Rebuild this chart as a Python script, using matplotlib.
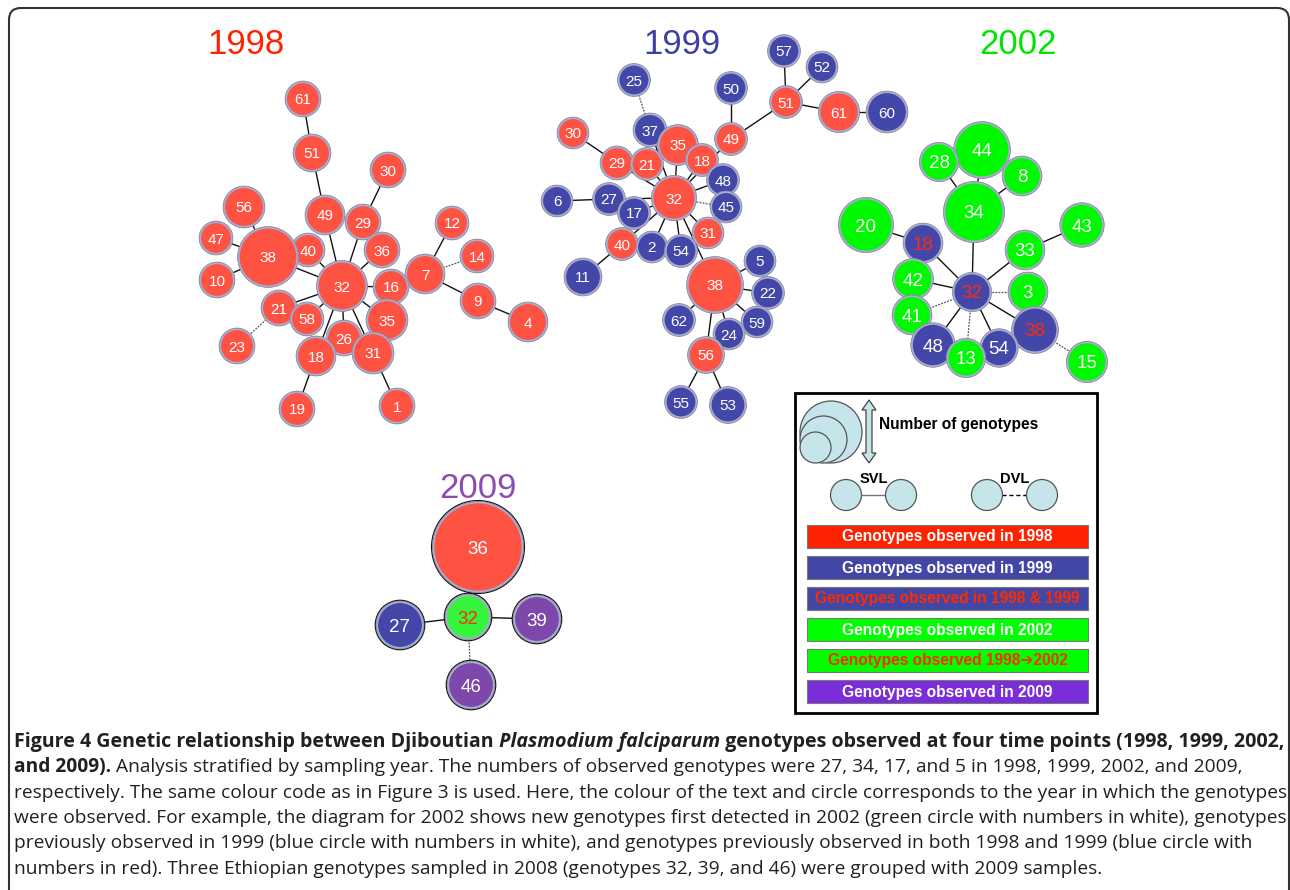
import matplotlib
matplotlib.use('Agg')
import matplotlib.pyplot as plt
from matplotlib.patches import Circle, Rectangle, FancyBboxPatch, Polygon

RED = '#fe5343'
BLUE = '#4347a7'
GREEN = '#00f800'
GREEN2 = '#35f53a'
PURPLE = '#7e47aa'
FILL = {'r': RED, 'b': BLUE, 'g': GREEN, 'G': GREEN2, 'p': PURPLE}
TXT = {'w': 'white', 'r': '#ff2a10'}

# ---- 1998 network ----
lab98 = ['61', '51', '30', '56', '49', '29', '12', '47', '40', '36', '14', '38', '7', '10',
         '32', '16', '9', '21', '58', '35', '4', '26', '23', '18', '31', '19', '1']
x98 = [303, 312, 388, 244, 325, 363, 452, 216, 308, 382, 477, 268, 425, 217,
       342, 391, 478, 279, 307, 387, 528, 344, 237, 316, 373, 297, 397]
y98 = [99, 153, 170, 207, 215, 222, 223, 238, 250, 250, 256, 257, 274, 280,
       286, 287, 301, 308, 319, 320, 322, 338, 346, 356, 353, 409, 406]
r98 = [17, 18, 17, 20, 19, 17, 16, 16, 16, 17, 16, 29.5, 19, 17,
       24.5, 17, 17, 17, 16, 20, 19, 17, 17, 19, 20, 17, 17]
fill98 = 'r' * len(lab98)
txt98 = 'w' * len(lab98)
svl98 = [('61', '51'), ('51', '49'), ('49', '32'), ('30', '29'), ('29', '32'), ('36', '32'),
         ('56', '38'), ('47', '38'), ('10', '38'), ('38', '32'), ('40', '32'), ('16', '32'),
         ('16', '7'), ('7', '12'), ('7', '9'), ('9', '4'), ('21', '32'), ('58', '32'),
         ('18', '32'), ('26', '32'), ('31', '32'), ('35', '32'), ('18', '19'), ('31', '1')]
dvl98 = [('7', '14'), ('23', '21')]

# ---- 1999 network ----
lab99 = ['57', '52', '25', '50', '51', '61', '60', '30', '37', '35', '49', '29', '21', '18',
         '48', '6', '27', '32', '17', '45', '31', '40', '2', '54', '5', '11', '38', '22',
         '62', '59', '24', '56', '55', '53']
x99 = [784, 822, 634, 731, 786, 839, 887, 573, 650, 678, 731, 617, 647, 702,
       723, 557, 609, 674, 634, 726, 708, 622, 652, 681, 760, 583, 715, 768,
       679, 757, 729, 706, 681, 728]
y99 = [51, 67, 80, 88, 102, 112, 112, 133, 130, 145, 139, 163, 164, 160,
       180, 201, 199, 198, 213, 207, 233, 244, 247, 251, 261, 277, 285, 293,
       320, 322, 334, 355, 402, 405]
r99 = [15.5, 15, 15.5, 15.5, 15.5, 19.7, 20, 15, 16, 19.5, 15.5, 16, 15.5, 15.5,
       15.5, 15, 15.5, 21.7, 15.5, 15, 15, 15.5, 15, 15.5, 15, 18, 27.5, 15.5,
       15.5, 15, 15, 17.5, 15.5, 17.5]
fill99 = 'bbbbrrbrbrrrrrbbbrbbrrbbbbrbbbbrbb'
txt99 = 'w' * len(lab99)
svl99 = [('57', '51'), ('52', '51'), ('51', '61'), ('61', '60'), ('51', '49'), ('50', '49'),
         ('49', '32'), ('37', '32'), ('30', '29'), ('29', '32'), ('21', '32'), ('35', '32'),
         ('18', '32'), ('48', '32'), ('6', '27'), ('27', '32'), ('17', '32'), ('31', '32'),
         ('40', '32'), ('11', '40'), ('2', '32'), ('54', '32'), ('38', '32'), ('5', '38'),
         ('22', '38'), ('62', '38'), ('59', '38'), ('24', '38'), ('56', '38'), ('55', '56'),
         ('53', '56')]
dvl99 = [('25', '37'), ('45', '32')]

# ---- 2002 network ----
lab02 = ['44', '28', '8', '34', '20', '43', '18', '33', '42', '32', '3', '41', '38', '48',
         '54', '13', '15']
x02 = [982, 939, 1022, 974, 866, 1082, 923, 1025, 913, 972, 1028, 912, 1035, 933,
       999, 966, 1087]
y02 = [150, 162, 176, 212, 225, 225, 243, 250, 279, 292, 292, 315, 330, 345,
       348, 358, 362]
r02 = [27.5, 18.7, 19, 29.7, 26.7, 21.3, 19, 19, 19.5, 18.7, 19, 19, 22.5, 21.3,
       18.3, 18.7, 19.7]
fill02 = 'ggggggbggbggbbbgg'
txt02 = 'wwwwwwrwwrwwrwwww'
svl02 = [('28', '34'), ('44', '34'), ('8', '34'), ('34', '32'), ('20', '18'), ('18', '32'),
         ('33', '32'), ('43', '33'), ('42', '32'), ('48', '32'), ('54', '32'), ('38', '32')]
dvl02 = [('3', '32'), ('41', '32'), ('13', '32'), ('38', '15')]

# ---- 2009 network ----
lab09 = ['36', '32', '27', '39', '46']
x09 = [478, 468, 400, 537, 471]
y09 = [547, 617, 625, 619, 685]
r09 = [44.7, 22, 23, 23, 23]
fill09 = 'rGbpp'
txt09 = 'wrwww'
svl09 = [('27', '32'), ('39', '32')]
dvl09 = [('46', '32')]

titles = ['1998', '1999', '2002', '2009']
title_x = [246, 682, 1018, 478]
title_y = [45, 45, 45, 489]
title_col = ['#ff2200', '#3f41a2', '#00e400', '#8b4cb3']

legend_rows = ['Genotypes observed in 1998', 'Genotypes observed in 1999',
               'Genotypes observed in 1998 & 1999', 'Genotypes observed in 2002',
               'Genotypes observed 1998\u27942002', 'Genotypes observed in 2009']
legend_fill = ['#ff2200', '#4247a5', '#4247a5', '#00ff00', '#00ff00', '#7a2ed8']
legend_txt = ['white', 'white', '#ff2a00', 'white', '#ff2a00', 'white']

cap_lines = [
    [('Figure 4 Genetic relationship between Djiboutian', 'bold', 'normal'),
     (' Plasmodium falciparum', 'bold', 'italic'),
     (' genotypes observed at four time points (1998, 1999, 2002,', 'bold', 'normal')],
    [('and 2009).', 'bold', 'normal'),
     (' Analysis stratified by sampling year. The numbers of observed genotypes were 27, 34, 17, '
      'and 5 in 1998, 1999, 2002, and 2009,', 'normal', 'normal')],
    [('respectively. The same colour code as in Figure 3 is used. Here, the colour of the text '
      'and circle corresponds to the year in which the genotypes', 'normal', 'normal')],
    [('were observed. For example, the diagram for 2002 shows new genotypes first detected in '
      '2002 (green circle with numbers in white), genotypes', 'normal', 'normal')],
    [('previously observed in 1999 (blue circle with numbers in white), and genotypes previously '
      'observed in both 1998 and 1999 (blue circle with', 'normal', 'normal')],
    [('numbers in red). Three Ethiopian genotypes sampled in 2008 (genotypes 32, 39, and 46) '
      'were grouped with 2009 samples.', 'normal', 'normal')],
]

fig = plt.figure(figsize=(12.9, 8.9), dpi=100)
ax = fig.add_axes([0, 0, 1, 1])
ax.set_xlim(0, 1290)
ax.set_ylim(890, 0)
ax.set_aspect('equal')
ax.axis('off')

NODE_FONT = 'Liberation Sans'


def draw_net(labels, xs, ys, rs, fills, txts, svl, dvl, fsize, outer=None):
    pos = {l: (x, y) for l, x, y in zip(labels, xs, ys)}
    for a, b in svl:
        (x1, y1), (x2, y2) = pos[a], pos[b]
        ax.plot([x1, x2], [y1, y2], color='#111111', lw=1.0, zorder=1)
    for a, b in dvl:
        (x1, y1), (x2, y2) = pos[a], pos[b]
        ax.plot([x1, x2], [y1, y2], color='#555555', lw=0.9, ls=(0, (1.5, 1)), zorder=1)
    for l, x, y, r, f, t in zip(labels, xs, ys, rs, fills, txts):
        if outer:
            ax.add_patch(Circle((x, y), r + 1.5, fc='none', ec=outer, lw=1.2, zorder=2))
        ax.add_patch(Circle((x, y), r, fc=FILL[f], ec='#a8acd8', lw=1.6, zorder=2))
        ax.add_patch(Circle((x, y), r + 0.9, fc='none', ec='#888888', lw=0.5, zorder=2))
        ax.text(x, y, l, ha='center', va='center_baseline', color=TXT[t],
                fontsize=fsize, family=NODE_FONT, zorder=3)


draw_net(lab98, x98, y98, r98, fill98, txt98, svl98, dvl98, 11)
draw_net(lab99, x99, y99, r99, fill99, txt99, svl99, dvl99, 11)
draw_net(lab02, x02, y02, r02, fill02, txt02, svl02, dvl02, 13.5)
draw_net(lab09, x09, y09, r09, fill09, txt09, svl09, dvl09, 13.5, outer='#111111')

for t, x, y, c in zip(titles, title_x, title_y, title_col):
    ax.text(x, y, t, ha='center', va='center', color=c, fontsize=25, family=NODE_FONT)

# ---- legend box ----
LB = '#c6e5ea'
ax.add_patch(Rectangle((795, 393), 302, 320, fc='white', ec='black', lw=2, zorder=1))
for r in [31, 23.5, 15.5]:
    ax.add_patch(Circle((800 + r, 463 - r), r, fc=LB, ec='#555555', lw=0.9, zorder=2))
ax_, ay0, ay1 = 869, 400, 463
arrow = [(ax_, ay0), (ax_ + 7, ay0 + 10), (ax_ + 3, ay0 + 10), (ax_ + 3, ay1 - 10),
         (ax_ + 7, ay1 - 10), (ax_, ay1), (ax_ - 7, ay1 - 10), (ax_ - 3, ay1 - 10),
         (ax_ - 3, ay0 + 10), (ax_ - 7, ay0 + 10)]
ax.add_patch(Polygon(arrow, closed=True, fc=LB, ec='#444444', lw=0.9, zorder=2))
ax.text(879, 425, 'Number of genotypes', fontsize=11.2, fontweight='bold',
        family=NODE_FONT, va='center', ha='left')

for cx, lbl, ls in [(873.5, 'SVL', '-'), (1014.5, 'DVL', (0, (3, 2)))]:
    ax.plot([cx - 27, cx + 27], [495, 495], color='#777777' if ls == '-' else 'black',
            lw=1, ls=ls, zorder=1)
    for dx in (-27.5, 27.5):
        ax.add_patch(Circle((cx + dx, 495), 15.5, fc=LB, ec='#555555', lw=0.9, zorder=2))
    ax.text(cx, 479, lbl, fontsize=10.5, fontweight='bold', family=NODE_FONT,
            ha='center', va='center', zorder=3)

for i, (lbl, fc, tc) in enumerate(zip(legend_rows, legend_fill, legend_txt)):
    y = 525 + i * 31
    ax.add_patch(Rectangle((807, y), 281, 23, fc=fc, ec='#777777', lw=0.8, zorder=2))
    ax.text(947.5, y + 12, lbl, fontsize=11.2, fontweight='bold', color=tc,
            family=['Liberation Sans', 'DejaVu Sans'], ha='center', va='center', zorder=3)

# ---- frame ----
ax.add_patch(FancyBboxPatch((9, 8), 1280, 900, boxstyle='round,pad=0,rounding_size=12',
                            fc='none', ec='#333333', lw=1.5, zorder=0, clip_on=False))

# ---- caption ----
renderer = fig.canvas.get_renderer()
CAP_FONT = 'Open Sans'


def measure(txt, weight, style, size):
    t = ax.text(0, 0, txt, fontsize=size, fontweight=weight, fontstyle=style, family=CAP_FONT)
    w = t.get_window_extent(renderer).width
    t.remove()
    return w


reg_size = 12 * 1262 / measure(cap_lines[2][0][0], 'normal', 'normal', 12)
bold_size = 12 * 1269 / sum(measure(s, w, st, 12) for s, w, st in cap_lines[0])

for i, runs in enumerate(cap_lines):
    x = 14
    y = 747 + i * 25.3
    for s, w, st in runs:
        size = bold_size if i == 0 else reg_size
        t = ax.text(x, y, s, fontsize=size, fontweight=w, fontstyle=st, family=CAP_FONT,
                    color='#231f20', ha='left', va='baseline')
        x += t.get_window_extent(renderer).width

fig.savefig('out.png', dpi=100)
